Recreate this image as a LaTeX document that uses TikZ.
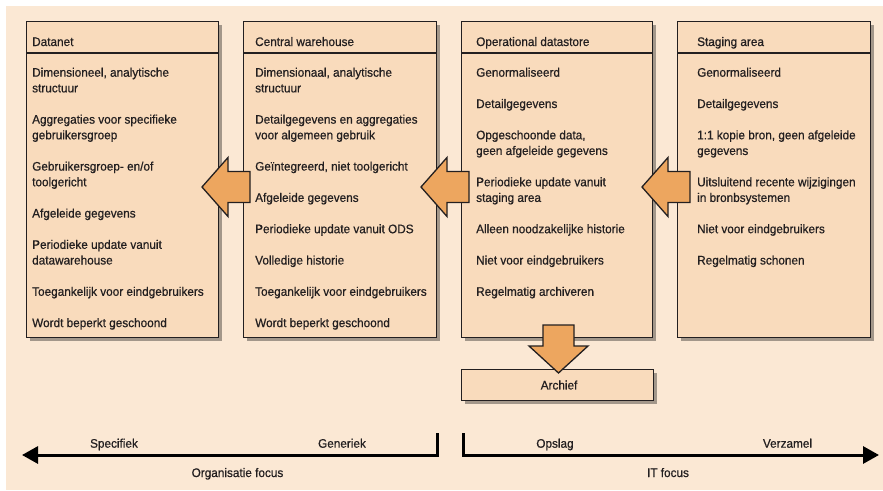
\documentclass[tikz,border=0pt]{standalone}
\usepackage{fontspec}
\setmainfont{Liberation Sans}[FakeStretch=0.95, FakeBold=0.6]
\usepackage{tikz}
\usetikzlibrary{arrows.meta,positioning,calc,shadows}

\definecolor{bgbeige}{HTML}{FBE8D4}
\definecolor{boxfill}{HTML}{F9DBBC}
\definecolor{arrowfill}{HTML}{EDA65F}
\definecolor{inkdark}{HTML}{231F20}

\newcommand{\itemfont}{\fontsize{12.4}{15.65}\selectfont}

% lines of one column: name, x, list of slot/text
\newcommand{\layerlines}[3]{%
  \foreach \slot/\txt in {#3}{\node[itemtext] (#1-\slot) at (#2,{76.7+\slot*15.65}) {\txt};}}

\tikzset{
  layerbox/.style={draw=inkdark, line width=1.1pt, fill=boxfill, anchor=north west, inner sep=0pt,
    drop shadow={shadow xshift=3pt, shadow yshift=-3pt, fill=black, opacity=.35}},
  headtext/.style={anchor=base west, inner sep=0pt, font=\itemfont, text=inkdark},
  itemtext/.style={anchor=base west, inner sep=0pt, font=\itemfont, text=inkdark},
  fatarrow/.style={draw=inkdark, line width=1.3pt, fill=arrowfill, line join=miter},
  axisline/.style={draw=black, line width=3pt, line join=miter},
  axislabel/.style={anchor=base, inner sep=0pt, font=\itemfont, text=inkdark},
  pics/leftblock/.style={code={
    \draw[fatarrow] (0,0) -- (26,-29.5) -- (26,-15.5) -- (48,-15.5) -- (48,15.5)
      -- (26,15.5) -- (26,29.5) -- cycle;}}
}

\begin{document}
\begin{tikzpicture}[x=1pt, y=-1pt]

\useasboundingbox (0,0) rectangle (883,490);
\fill[bgbeige] (6,6) rectangle (883,490);

% Columns
\node[layerbox, minimum width=192pt, minimum height=316pt] (dn) at (26,21) {};
\node[layerbox, minimum width=193pt, minimum height=316pt] (cw) at (243,21) {};
\node[layerbox, minimum width=191pt, minimum height=316pt] (ods) at (461,21) {};
\node[layerbox, minimum width=193pt, minimum height=316pt] (sa) at (677,21) {};
\node[layerbox, minimum width=192pt, minimum height=31pt, font=\itemfont, text=inkdark] (ar) at (461,369) {\hspace*{3pt}Archief};

\foreach \b in {dn,cw,ods,sa}
  \draw[draw=inkdark, line width=1.1pt] ($(\b.north west)+(0,32)$) -- ($(\b.north east)+(0,32)$);

% Headers
\node[headtext] (dn-h) at (32,46) {Datanet};
\node[headtext] (cw-h) at (255,46) {Central warehouse};
\node[headtext] (ods-h) at (476,46) {Operational datastore};
\node[headtext] (sa-h) at (697,46) {Staging area};

% Properties
\layerlines{dn}{32}{0/{Dimensioneel, analytische},1/structuur,3/{Aggregaties voor specifieke},4/gebruikersgroep,
  6/{Gebruikersgroep- en/of},7/toolgericht,9/{Afgeleide gegevens},11/{Periodieke update vanuit},12/datawarehouse,
  14/{Toegankelijk voor eindgebruikers},16/{Wordt beperkt geschoond}}
\layerlines{cw}{255}{0/{Dimensionaal, analytische},1/structuur,3/{Detailgegevens en aggregaties},4/{voor algemeen gebruik},
  6/{Geïntegreerd, niet toolgericht},8/{Afgeleide gegevens},10/{Periodieke update vanuit ODS},12/{Volledige historie},
  14/{Toegankelijk voor eindgebruikers},16/{Wordt beperkt geschoond}}
\layerlines{ods}{476}{0/Genormaliseerd,2/Detailgegevens,4/{Opgeschoonde data,},5/{geen afgeleide gegevens},
  7/{Periodieke update vanuit},8/{staging area},10/{Alleen noodzakelijke historie},12/{Niet voor eindgebruikers},
  14/{Regelmatig archiveren}}
\layerlines{sa}{697}{0/Genormaliseerd,2/Detailgegevens,4/{1:1 kopie bron, geen afgeleide},5/gegevens,
  7/{Uitsluitend recente wijzigingen},8/{in bronbsystemen},10/{Niet voor eindgebruikers},12/{Regelmatig schonen}}

% Flow arrows
\pic (cw-dn) at (202,187) {leftblock};
\pic (ods-cw) at (421,187) {leftblock};
\pic (sa-ods) at (642,187) {leftblock};
\draw[fatarrow] (558.5,373) -- (529,346) -- (543,346) -- (543,325) -- (574,325) -- (574,346)
  -- (588,346) -- cycle;

% Focus axes
\coordinate (org-top) at (437,433);
\coordinate (org-corner) at (437,455);
\coordinate (org-tip) at (22,455);
\draw[axisline, -{Triangle[length=16pt, width=17pt]}] (org-top) -- (org-corner) -- (org-tip);
\coordinate (it-top) at (463,433);
\coordinate (it-corner) at (463,455);
\coordinate (it-tip) at (879,455);
\draw[axisline, -{Triangle[length=16pt, width=17pt]}] (it-top) -- (it-corner) -- (it-tip);

\node[axislabel] (spec) at (114,447.7) {Specifiek};
\node[axislabel] (gen) at (342,447.7) {Generiek};
\node[axislabel] (orgf) at (237.5,477) {Organisatie focus};
\node[axislabel] (opsl) at (555,447.7) {Opslag};
\node[axislabel] (verz) at (787.5,447.7) {Verzamel};
\node[axislabel] (itf) at (668,477) {IT focus};

\end{tikzpicture}
\end{document}
